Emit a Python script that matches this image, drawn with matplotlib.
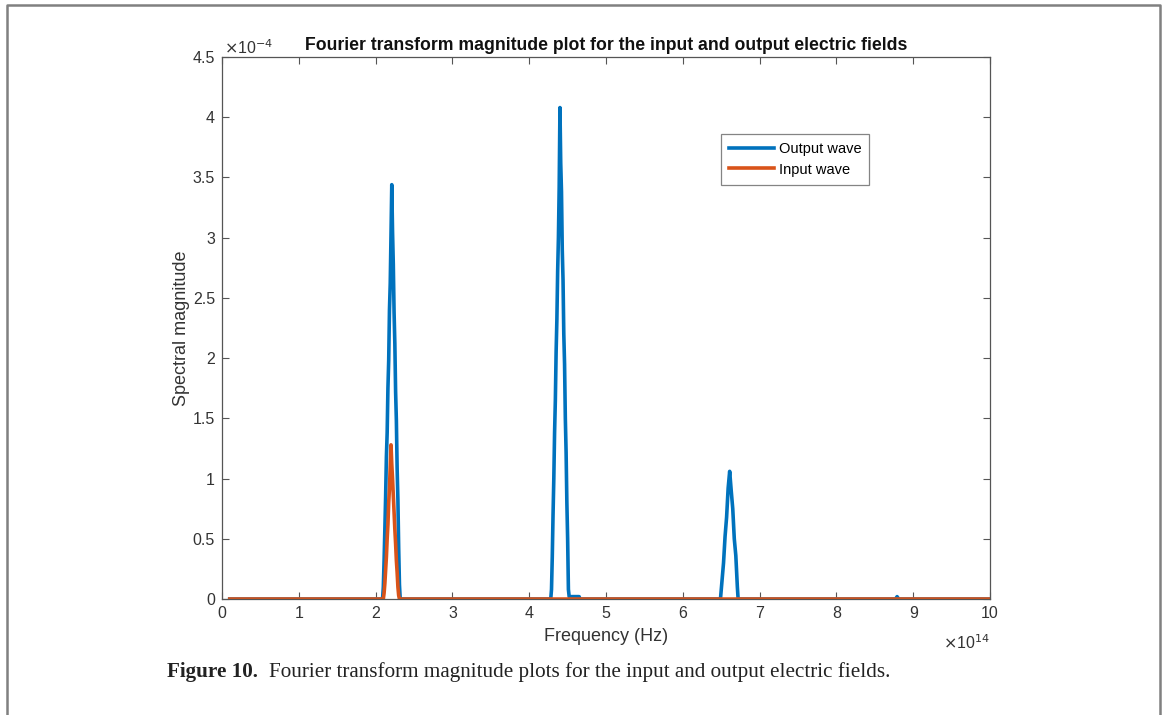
import matplotlib
matplotlib.use('Agg')
import matplotlib.pyplot as plt
from matplotlib.lines import Line2D

# -------------------------------------------------------------------------------------------------------------------- #
# DATA  (frequency in 1e14 Hz, magnitude in 1e-4)

out_freq = [0.1, 2.09, 2.10, 2.11, 2.12, 2.13, 2.14, 2.15, 2.16, 2.17, 2.18, 2.19, 2.20, 2.21, 2.22, 2.23,
            2.24, 2.25, 2.26, 2.27, 2.28, 2.29, 2.30, 2.31, 2.32,
            4.28, 4.29, 4.30, 4.31, 4.32, 4.33, 4.34, 4.35, 4.36, 4.37, 4.38, 4.39, 4.40, 4.41, 4.42, 4.43,
            4.44, 4.45, 4.46, 4.47, 4.48, 4.49, 4.50, 4.51, 4.52, 4.65, 4.66,
            6.49, 6.51, 6.53, 6.55, 6.57, 6.59, 6.61, 6.63, 6.65, 6.67, 6.69, 6.71, 6.72,
            8.77, 8.79, 8.81, 10.0]
out_mag = [0.0, 0.0, 0.10, 0.32, 0.58, 0.85, 1.18, 1.38, 1.75, 1.98, 2.40, 2.62, 3.02, 3.44, 3.05, 2.78,
           2.38, 2.12, 1.72, 1.48, 1.08, 0.82, 0.42, 0.12, 0.0,
           0.0, 0.08, 0.35, 0.70, 1.00, 1.38, 1.65, 2.05, 2.32, 2.72, 3.00, 3.42, 4.08, 3.62, 3.38, 2.90,
           2.65, 2.20, 1.95, 1.50, 1.22, 0.80, 0.50, 0.08, 0.02, 0.02, 0.0,
           0.0, 0.15, 0.30, 0.52, 0.68, 0.92, 1.06, 0.90, 0.75, 0.50, 0.36, 0.10, 0.0,
           0.0, 0.02, 0.0, 0.0]

in_freq = [0.1, 2.10, 2.11, 2.12, 2.13, 2.14, 2.15, 2.16, 2.17, 2.18, 2.19, 2.20, 2.21, 2.22, 2.23, 2.24,
           2.25, 2.26, 2.27, 2.28, 2.29, 2.30, 2.31, 10.0]
in_mag = [0.0, 0.0, 0.05, 0.13, 0.24, 0.35, 0.50, 0.62, 0.80, 0.92, 1.10, 1.28, 1.12, 1.00, 0.86, 0.72,
          0.58, 0.46, 0.32, 0.22, 0.10, 0.03, 0.0, 0.0]

x_ticks = [0, 1, 2, 3, 4, 5, 6, 7, 8, 9, 10]
y_ticks = [0, 0.5, 1, 1.5, 2, 2.5, 3, 3.5, 4, 4.5]

colors = {'out': '#0072BD', 'in': '#D95319', 'axis': '#555555', 'text': '#333333', 'frame': '#808080'}

# -------------------------------------------------------------------------------------------------------------------- #
# PLOT

plt.rcParams['font.family'] = ['Liberation Sans', 'DejaVu Sans']

fig = plt.figure(figsize=(11.65, 7.15), dpi=100)
ax = fig.add_axes([0.1906, 0.1622, 0.6592, 0.7581])

ax.plot(out_freq, out_mag, color=colors['out'], lw=2.6, label='Output wave')
ax.plot(in_freq, in_mag, color=colors['in'], lw=2.6, label='Input wave')

ax.set_xlim(0, 10)
ax.set_ylim(0, 4.5)
ax.set_xticks(x_ticks)
ax.set_yticks(y_ticks)
ax.set_xticklabels([f'{v:g}' for v in x_ticks])
ax.set_yticklabels([f'{v:g}' for v in y_ticks])
ax.tick_params(direction='in', length=5, width=0.8, top=True, right=True, color=colors['axis'],
               labelcolor=colors['text'], labelsize=11.5, pad=5)
for sp in ax.spines.values():
    sp.set_color(colors['axis'])
    sp.set_linewidth(0.9)

ax.set_title('Fourier transform magnitude plot for the input and output electric fields',
             fontsize=12.7, fontweight='bold', color='#111111', pad=5)
ax.set_xlabel('Frequency (Hz)', fontsize=13, color=colors['text'], labelpad=5)
ax.set_ylabel('Spectral magnitude', fontsize=13, color=colors['text'], labelpad=2)

# MATLAB style exponent labels
ax.text(0.003, 1.0, r'$\times$10$^{-4}$', transform=ax.transAxes, fontsize=11.5, color=colors['text'],
        ha='left', va='bottom')
ax.text(1.0, -0.064, r'$\times$10$^{14}$', transform=ax.transAxes, fontsize=11.5, color=colors['text'],
        ha='right', va='top')

leg = ax.legend(loc='upper left', bbox_to_anchor=(0.650, 0.858), fontsize=10.5, frameon=True, fancybox=False,
                handlelength=3.1, handletextpad=0.3, borderpad=0.55, labelspacing=0.45, borderaxespad=0)
leg.get_frame().set_edgecolor('#666666')
leg.get_frame().set_linewidth(0.9)

# Caption
fig.canvas.draw()
cap1 = fig.text(0.1435, 0.060, 'Figure 10.', fontsize=15.2, fontweight='bold', family='Liberation Serif',
                color='#222222', ha='left', va='center')
bb = cap1.get_window_extent(fig.canvas.get_renderer())
fig.text((bb.x1 + 11) / fig.bbox.width, 0.060,
         'Fourier transform magnitude plots for the input and output electric fields.',
         fontsize=15.2, family='Liberation Serif', color='#222222', ha='left', va='center')

# Frame around figure (open at the bottom)
frame_x = [0.006, 0.006, 0.9955, 0.9955]
frame_y = [0.0, 0.9935, 0.9935, 0.0]
fig.add_artist(Line2D(frame_x, frame_y, transform=fig.transFigure, color=colors['frame'], lw=1.8))

fig.savefig('out.png', dpi=100)
